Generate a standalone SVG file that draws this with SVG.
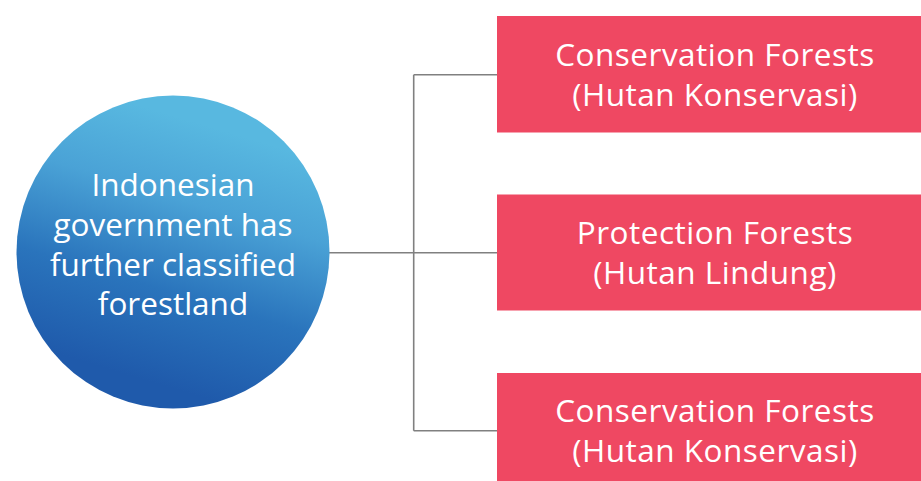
<svg xmlns="http://www.w3.org/2000/svg" width="921" height="481" viewBox="0 0 921 481">
<defs>
<linearGradient id="g" x1="0.62" y1="0.1" x2="0.38" y2="0.9">
<stop offset="0" stop-color="#58b8e0"/>
<stop offset="0.3" stop-color="#4aa2d6"/>
<stop offset="0.65" stop-color="#2a74bc"/>
<stop offset="1" stop-color="#1f5aab"/>
</linearGradient>
<style>
.t{font-family:"Open Sans",Lato,"Liberation Sans",sans-serif;fill:#fff;font-size:31.5px;letter-spacing:0.5px;text-anchor:middle;font-variant-ligatures:none}
.m{letter-spacing:0}
.b{fill:#ef4862}
.c{stroke:#808080;stroke-width:1.6;fill:none}
</style>
</defs>
<rect width="921" height="481" fill="#fff"/>
<g id="connectors">
<path class="c" d="M329 252.7H413.7M413.7 74.7V430.7M413.7 74.7H497M413.7 252.7H497M413.7 430.7H497"/>
</g>
<g id="center">
<circle cx="173" cy="252" r="156.5" fill="url(#g)"/>
<text class="t m"><tspan x="173" y="196">Indonesian</tspan><tspan x="173" y="236">government has</tspan><tspan x="173" y="276">further classified</tspan><tspan x="173" y="315">forestland</tspan></text>
</g>
<g id="box1">
<rect class="b" x="497" y="16" width="424" height="116.5"/>
<text class="t"><tspan x="715" y="65.5">Conservation Forests</tspan><tspan x="715" y="105.5">(Hutan Konservasi)</tspan></text>
</g>
<g id="box2">
<rect class="b" x="497" y="194.5" width="424" height="116"/>
<text class="t"><tspan x="715" y="243.5">Protection Forests</tspan><tspan x="715" y="283.5">(Hutan Lindung)</tspan></text>
</g>
<g id="box3">
<rect class="b" x="497" y="373" width="424" height="116"/>
<text class="t"><tspan x="715" y="422">Conservation Forests</tspan><tspan x="715" y="462">(Hutan Konservasi)</tspan></text>
</g>
</svg>
